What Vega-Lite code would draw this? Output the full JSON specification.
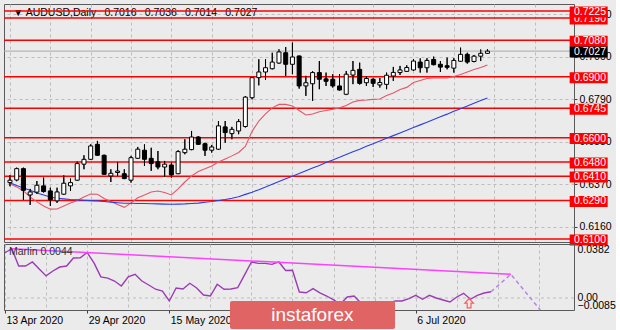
{
"$schema": "https://vega.github.io/schema/vega-lite/v6.json",
"background": "#EBEBEB",
"padding": {"left": 2, "top": 3, "right": 0, "bottom": 0},
"spacing": 2,
"bounds": "flush",
"config": {"view": {"stroke": "#5A5A5A", "strokeWidth": 1}, "text": {"font": "Liberation Sans"}, "axis": {"labelFont": "Liberation Sans", "labelFontSize": 10.5, "labelColor": "#000000"}},
"datasets": {
"bars": [
{"i":0,"d":"2020-04-13","o":0.6378,"h":0.6415,"l":0.6360,"c":0.6390,"ma12":0.6372,"ma50":0.6377,"marlin":0.0320},
{"i":1,"d":"2020-04-14","o":0.6391,"h":0.6452,"l":0.6385,"c":0.6447,"ma12":0.6357,"ma50":0.6364,"marlin":0.0349},
{"i":2,"d":"2020-04-15","o":0.6447,"h":0.6452,"l":0.6293,"c":0.6340,"ma12":0.6337,"ma50":0.6352,"marlin":0.0226},
{"i":3,"d":"2020-04-16","o":0.6317,"h":0.6347,"l":0.6268,"c":0.6332,"ma12":0.6307,"ma50":0.6340,"marlin":0.0226},
{"i":4,"d":"2020-04-17","o":0.6331,"h":0.6386,"l":0.6322,"c":0.6365,"ma12":0.6283,"ma50":0.6327,"marlin":0.0255},
{"i":5,"d":"2020-04-20","o":0.6362,"h":0.6403,"l":0.6329,"c":0.6334,"ma12":0.6263,"ma50":0.6317,"marlin":0.0205},
{"i":6,"d":"2020-04-21","o":0.6337,"h":0.6353,"l":0.6263,"c":0.6293,"ma12":0.6247,"ma50":0.6307,"marlin":0.0156},
{"i":7,"d":"2020-04-22","o":0.6288,"h":0.6353,"l":0.6278,"c":0.6332,"ma12":0.6248,"ma50":0.6301,"marlin":0.0191},
{"i":8,"d":"2020-04-23","o":0.6321,"h":0.6414,"l":0.6318,"c":0.6375,"ma12":0.6263,"ma50":0.6298,"marlin":0.0219},
{"i":9,"d":"2020-04-24","o":0.6362,"h":0.6398,"l":0.6337,"c":0.6378,"ma12":0.6278,"ma50":0.6295,"marlin":0.0226},
{"i":10,"d":"2020-04-27","o":0.6390,"h":0.6482,"l":0.6388,"c":0.6472,"ma12":0.6290,"ma50":0.6293,"marlin":0.0283},
{"i":11,"d":"2020-04-28","o":0.6469,"h":0.6513,"l":0.6444,"c":0.6493,"ma12":0.6307,"ma50":0.6291,"marlin":0.0285},
{"i":12,"d":"2020-04-29","o":0.6493,"h":0.6567,"l":0.6490,"c":0.6559,"ma12":0.6322,"ma50":0.6289,"marlin":0.0322},
{"i":13,"d":"2020-04-30","o":0.6567,"h":0.6584,"l":0.6510,"c":0.6513,"ma12":0.6321,"ma50":0.6288,"marlin":0.0248},
{"i":14,"d":"2020-05-01","o":0.6513,"h":0.6516,"l":0.6417,"c":0.6419,"ma12":0.6300,"ma50":0.6285,"marlin":0.0149},
{"i":15,"d":"2020-05-04","o":0.6411,"h":0.6444,"l":0.6381,"c":0.6424,"ma12":0.6285,"ma50":0.6282,"marlin":0.0141},
{"i":16,"d":"2020-05-05","o":0.6428,"h":0.6480,"l":0.6411,"c":0.6435,"ma12":0.6270,"ma50":0.6279,"marlin":0.0120},
{"i":17,"d":"2020-05-06","o":0.6422,"h":0.6444,"l":0.6395,"c":0.6398,"ma12":0.6256,"ma50":0.6276,"marlin":0.0085},
{"i":18,"d":"2020-05-07","o":0.6390,"h":0.6510,"l":0.6378,"c":0.6501,"ma12":0.6278,"ma50":0.6276,"marlin":0.0149},
{"i":19,"d":"2020-05-08","o":0.6498,"h":0.6554,"l":0.6495,"c":0.6543,"ma12":0.6303,"ma50":0.6275,"marlin":0.0168},
{"i":20,"d":"2020-05-11","o":0.6538,"h":0.6567,"l":0.6460,"c":0.6493,"ma12":0.6317,"ma50":0.6275,"marlin":0.0120},
{"i":21,"d":"2020-05-12","o":0.6498,"h":0.6550,"l":0.6436,"c":0.6472,"ma12":0.6332,"ma50":0.6274,"marlin":0.0092},
{"i":22,"d":"2020-05-13","o":0.6481,"h":0.6534,"l":0.6444,"c":0.6455,"ma12":0.6337,"ma50":0.6273,"marlin":0.0062},
{"i":23,"d":"2020-05-14","o":0.6455,"h":0.6485,"l":0.6406,"c":0.6469,"ma12":0.6329,"ma50":0.6272,"marlin":0.0049},
{"i":24,"d":"2020-05-15","o":0.6465,"h":0.6477,"l":0.6403,"c":0.6416,"ma12":0.6317,"ma50":0.6271,"marlin":-0.0021},
{"i":25,"d":"2020-05-18","o":0.6422,"h":0.6538,"l":0.6420,"c":0.6531,"ma12":0.6347,"ma50":0.6272,"marlin":0.0071},
{"i":26,"d":"2020-05-19","o":0.6526,"h":0.6592,"l":0.6518,"c":0.6543,"ma12":0.6381,"ma50":0.6273,"marlin":0.0064},
{"i":27,"d":"2020-05-20","o":0.6541,"h":0.6633,"l":0.6538,"c":0.6603,"ma12":0.6411,"ma50":0.6275,"marlin":0.0104},
{"i":28,"d":"2020-05-21","o":0.6603,"h":0.6608,"l":0.6564,"c":0.6567,"ma12":0.6433,"ma50":0.6277,"marlin":0.0071},
{"i":29,"d":"2020-05-22","o":0.6570,"h":0.6575,"l":0.6510,"c":0.6538,"ma12":0.6446,"ma50":0.6281,"marlin":0.0021},
{"i":30,"d":"2020-05-25","o":0.6538,"h":0.6564,"l":0.6526,"c":0.6554,"ma12":0.6460,"ma50":0.6285,"marlin":0.0014},
{"i":31,"d":"2020-05-26","o":0.6543,"h":0.6682,"l":0.6540,"c":0.6658,"ma12":0.6480,"ma50":0.6290,"marlin":0.0097},
{"i":32,"d":"2020-05-27","o":0.6653,"h":0.6682,"l":0.6575,"c":0.6625,"ma12":0.6495,"ma50":0.6295,"marlin":0.0062},
{"i":33,"d":"2020-05-28","o":0.6620,"h":0.6653,"l":0.6592,"c":0.6641,"ma12":0.6510,"ma50":0.6301,"marlin":0.0064},
{"i":34,"d":"2020-05-29","o":0.6633,"h":0.6691,"l":0.6617,"c":0.6679,"ma12":0.6527,"ma50":0.6308,"marlin":0.0073},
{"i":35,"d":"2020-06-01","o":0.6655,"h":0.6805,"l":0.6650,"c":0.6800,"ma12":0.6557,"ma50":0.6320,"marlin":0.0163},
{"i":36,"d":"2020-06-02","o":0.6797,"h":0.6900,"l":0.6789,"c":0.6896,"ma12":0.6631,"ma50":0.6331,"marlin":0.0255},
{"i":37,"d":"2020-06-03","o":0.6896,"h":0.6987,"l":0.6858,"c":0.6924,"ma12":0.6682,"ma50":0.6343,"marlin":0.0245},
{"i":38,"d":"2020-06-04","o":0.6924,"h":0.6987,"l":0.6885,"c":0.6945,"ma12":0.6717,"ma50":0.6356,"marlin":0.0245},
{"i":39,"d":"2020-06-05","o":0.6940,"h":0.7019,"l":0.6937,"c":0.6973,"ma12":0.6747,"ma50":0.6370,"marlin":0.0238},
{"i":40,"d":"2020-06-08","o":0.6968,"h":0.7036,"l":0.6965,"c":0.7023,"ma12":0.6764,"ma50":0.6383,"marlin":0.0255},
{"i":41,"d":"2020-06-09","o":0.7019,"h":0.7047,"l":0.6904,"c":0.6962,"ma12":0.6764,"ma50":0.6397,"marlin":0.0195},
{"i":42,"d":"2020-06-10","o":0.6962,"h":0.7069,"l":0.6913,"c":0.6998,"ma12":0.6756,"ma50":0.6410,"marlin":0.0196},
{"i":43,"d":"2020-06-11","o":0.7003,"h":0.7005,"l":0.6842,"c":0.6855,"ma12":0.6734,"ma50":0.6423,"marlin":0.0042},
{"i":44,"d":"2020-06-12","o":0.6855,"h":0.6905,"l":0.6806,"c":0.6871,"ma12":0.6712,"ma50":0.6437,"marlin":0.0037},
{"i":45,"d":"2020-06-15","o":0.6866,"h":0.6928,"l":0.6781,"c":0.6921,"ma12":0.6717,"ma50":0.6450,"marlin":0.0066},
{"i":46,"d":"2020-06-16","o":0.6921,"h":0.6978,"l":0.6839,"c":0.6888,"ma12":0.6728,"ma50":0.6463,"marlin":0.0037},
{"i":47,"d":"2020-06-17","o":0.6890,"h":0.6921,"l":0.6855,"c":0.6878,"ma12":0.6734,"ma50":0.6477,"marlin":0.0014},
{"i":48,"d":"2020-06-18","o":0.6888,"h":0.6913,"l":0.6847,"c":0.6855,"ma12":0.6740,"ma50":0.6490,"marlin":-0.0014},
{"i":49,"d":"2020-06-19","o":0.6855,"h":0.6913,"l":0.6833,"c":0.6835,"ma12":0.6747,"ma50":0.6503,"marlin":-0.0043},
{"i":50,"d":"2020-06-22","o":0.6814,"h":0.6929,"l":0.6810,"c":0.6913,"ma12":0.6759,"ma50":0.6517,"marlin":0.0007},
{"i":51,"d":"2020-06-23","o":0.6909,"h":0.6978,"l":0.6864,"c":0.6932,"ma12":0.6776,"ma50":0.6530,"marlin":0.0014},
{"i":52,"d":"2020-06-24","o":0.6937,"h":0.6970,"l":0.6862,"c":0.6868,"ma12":0.6784,"ma50":0.6543,"marlin":-0.0036},
{"i":53,"d":"2020-06-25","o":0.6871,"h":0.6904,"l":0.6855,"c":0.6892,"ma12":0.6786,"ma50":0.6557,"marlin":-0.0057},
{"i":54,"d":"2020-06-26","o":0.6888,"h":0.6893,"l":0.6850,"c":0.6868,"ma12":0.6789,"ma50":0.6570,"marlin":-0.0064},
{"i":55,"d":"2020-06-29","o":0.6860,"h":0.6894,"l":0.6847,"c":0.6872,"ma12":0.6791,"ma50":0.6583,"marlin":-0.0050},
{"i":56,"d":"2020-06-30","o":0.6863,"h":0.6921,"l":0.6839,"c":0.6908,"ma12":0.6808,"ma50":0.6597,"marlin":-0.0036},
{"i":57,"d":"2020-07-01","o":0.6904,"h":0.6949,"l":0.6880,"c":0.6922,"ma12":0.6820,"ma50":0.6610,"marlin":-0.0021},
{"i":58,"d":"2020-07-02","o":0.6921,"h":0.6954,"l":0.6909,"c":0.6934,"ma12":0.6838,"ma50":0.6623,"marlin":-0.0021},
{"i":59,"d":"2020-07-03","o":0.6927,"h":0.6957,"l":0.6925,"c":0.6946,"ma12":0.6848,"ma50":0.6636,"marlin":-0.0004},
{"i":60,"d":"2020-07-06","o":0.6934,"h":0.6988,"l":0.6930,"c":0.6978,"ma12":0.6872,"ma50":0.6650,"marlin":0.0019},
{"i":61,"d":"2020-07-07","o":0.6973,"h":0.6991,"l":0.6921,"c":0.6945,"ma12":0.6882,"ma50":0.6663,"marlin":-0.0009},
{"i":62,"d":"2020-07-08","o":0.6945,"h":0.6992,"l":0.6921,"c":0.6981,"ma12":0.6892,"ma50":0.6676,"marlin":0.0019},
{"i":63,"d":"2020-07-09","o":0.6986,"h":0.7000,"l":0.6957,"c":0.6960,"ma12":0.6894,"ma50":0.6690,"marlin":0.0000},
{"i":64,"d":"2020-07-10","o":0.6962,"h":0.6978,"l":0.6924,"c":0.6948,"ma12":0.6894,"ma50":0.6703,"marlin":-0.0014},
{"i":65,"d":"2020-07-13","o":0.6955,"h":0.6995,"l":0.6937,"c":0.6947,"ma12":0.6894,"ma50":0.6716,"marlin":-0.0028},
{"i":66,"d":"2020-07-14","o":0.6943,"h":0.6992,"l":0.6921,"c":0.6981,"ma12":0.6902,"ma50":0.6730,"marlin":0.0007},
{"i":67,"d":"2020-07-15","o":0.6977,"h":0.7044,"l":0.6975,"c":0.7011,"ma12":0.6912,"ma50":0.6743,"marlin":0.0033},
{"i":68,"d":"2020-07-16","o":0.7011,"h":0.7019,"l":0.6965,"c":0.6973,"ma12":0.6924,"ma50":0.6756,"marlin":-0.0009},
{"i":69,"d":"2020-07-17","o":0.6976,"h":0.7008,"l":0.6972,"c":0.7002,"ma12":0.6936,"ma50":0.6770,"marlin":0.0019},
{"i":70,"d":"2020-07-20","o":0.7002,"h":0.7035,"l":0.6978,"c":0.7016,"ma12":0.6946,"ma50":0.6783,"marlin":0.0035},
{"i":71,"d":"2020-07-21","o":0.7016,"h":0.7036,"l":0.7014,"c":0.7027,"ma12":0.6959,"ma50":0.6796,"marlin":0.0044}
],
"levels": [{"p":0.7190},{"p":0.7080},{"p":0.6900},{"p":0.6745},{"p":0.6600},{"p":0.6480},{"p":0.6410},{"p":0.6290},{"p":0.6100},{"p":0.7225}],
"last": [{"p":0.7027}],
"trend": [{"i":1,"v":0.0349},{"i":73.9,"v":0.0168}],
"forecast": [{"i":71,"v":0.0044},{"i":73.9,"v":0.0168},{"i":78.2,"v":-0.0085}],
"one": [{"n":1}]
},
"vconcat": [
{
"width": 570, "height": 238,
"layer": [
{"data": {"name": "one"}, "mark": {"type": "text", "align": "left", "baseline": "middle", "fontSize": 10.5, "color": "#000000"},
 "encoding": {"x": {"datum": 0.44, "type": "quantitative"}, "y": {"datum": 0.72151, "type": "quantitative"}, "text": {"value": "▼ AUDUSD,Daily\u2002 0.7016\u2002 0.7036\u2002 0.7014\u2002 0.7027"}}},
{"data": {"name": "bars"},
 "mark": {"type": "rule", "color": "#000000", "strokeWidth": 1, "clip": true},
 "encoding": {
  "x": {"field": "i", "type": "quantitative", "title": null, "scale": {"domain": [-0.146, 83.126], "nice": false, "zero": false},
        "axis": {"values": [0,6,12,18,24,30,36,42,48,54,60,66,72,78], "tickCount": 20, "labels": false, "ticks": false, "domain": false, "grid": true, "gridColor": "#BDBDBD", "gridDash": [3,3], "title": null}},
  "y": {"field": "l", "type": "quantitative", "title": null, "scale": {"domain": [0.6085, 0.72595], "nice": false, "zero": false},
        "axis": {"orient": "right", "values": [0.616, 0.637, 0.658, 0.679, 0.7, 0.721], "tickCount": 10, "format": ".4f", "grid": true, "gridColor": "#BDBDBD", "gridDash": [3,3], "domain": false, "ticks": true, "tickSize": 3, "tickColor": "#404040", "labelPadding": 2, "labelOverlap": false, "labelFlush": false, "labelBound": false, "title": null}},
  "y2": {"field": "h"}}},
{"data": {"name": "levels"}, "mark": {"type": "rule", "color": "#FF0000", "strokeWidth": 1.5},
 "encoding": {"y": {"field": "p", "type": "quantitative", "title": null}}},
{"data": {"name": "last"}, "mark": {"type": "rule", "color": "#A8A8A8", "strokeWidth": 1},
 "encoding": {"y": {"field": "p", "type": "quantitative", "title": null}}},
{"data": {"name": "bars"}, "mark": {"type": "line", "color": "#E5566A", "strokeWidth": 1.1, "clip": true},
 "encoding": {"x": {"field": "i", "type": "quantitative", "title": null}, "y": {"field": "ma12", "type": "quantitative", "title": null}}},
{"data": {"name": "bars"}, "mark": {"type": "line", "color": "#2B3FE0", "strokeWidth": 1.1, "clip": true},
 "encoding": {"x": {"field": "i", "type": "quantitative", "title": null}, "y": {"field": "ma50", "type": "quantitative", "title": null}}},
{"data": {"name": "bars"}, "mark": {"type": "rule", "color": "#000000", "strokeWidth": 1, "clip": true},
 "encoding": {"x": {"field": "i", "type": "quantitative", "title": null}, "y": {"field": "l", "type": "quantitative", "title": null}, "y2": {"field": "h"}}},
{"data": {"name": "bars"}, "mark": {"type": "bar", "width": 4, "stroke": "#000000", "strokeWidth": 1, "clip": true},
 "encoding": {"x": {"field": "i", "type": "quantitative", "title": null}, "y": {"field": "o", "type": "quantitative", "title": null}, "y2": {"field": "c"},
  "fill": {"condition": {"test": "datum.c < datum.o", "value": "#000000"}, "value": "#FFFFFF"}}},
{"data": {"name": "levels"}, "transform": [{"filter": "datum.p != 0.7225"}],
 "mark": {"type": "point", "shape": "M-1,-0.24H1V0.34H-1Z", "size": 1444, "filled": true, "color": "#FF0000", "opacity": 1, "strokeWidth": 0},
 "encoding": {"x": {"datum": 86.05, "type": "quantitative"}, "y": {"field": "p", "type": "quantitative", "title": null}}},
{"data": {"name": "levels"}, "transform": [{"filter": "datum.p != 0.7225"}],
 "mark": {"type": "text", "align": "left", "baseline": "middle", "dy": 1, "fontSize": 10.5, "color": "#FFFFFF"},
 "encoding": {"x": {"datum": 83.86, "type": "quantitative"}, "y": {"field": "p", "type": "quantitative", "title": null}, "text": {"field": "p", "type": "quantitative", "format": ".4f"}}},
{"data": {"name": "levels"}, "transform": [{"filter": "datum.p == 0.7225"}],
 "mark": {"type": "point", "shape": "M-1,-0.24H1V0.34H-1Z", "size": 1444, "filled": true, "color": "#FF0000", "opacity": 1, "strokeWidth": 0},
 "encoding": {"x": {"datum": 86.05, "type": "quantitative"}, "y": {"field": "p", "type": "quantitative", "title": null}}},
{"data": {"name": "levels"}, "transform": [{"filter": "datum.p == 0.7225"}],
 "mark": {"type": "text", "align": "left", "baseline": "middle", "dy": 1, "fontSize": 10.5, "color": "#FFFFFF"},
 "encoding": {"x": {"datum": 83.86, "type": "quantitative"}, "y": {"field": "p", "type": "quantitative", "title": null}, "text": {"field": "p", "type": "quantitative", "format": ".4f"}}},
{"data": {"name": "last"},
 "mark": {"type": "point", "shape": "M-1,-0.24H1V0.34H-1Z", "size": 1444, "filled": true, "color": "#000000", "opacity": 1, "strokeWidth": 0},
 "encoding": {"x": {"datum": 86.05, "type": "quantitative"}, "y": {"field": "p", "type": "quantitative", "title": null}}},
{"data": {"name": "last"},
 "mark": {"type": "text", "align": "left", "baseline": "middle", "dy": 1, "fontSize": 10.5, "color": "#FFFFFF"},
 "encoding": {"x": {"datum": 83.86, "type": "quantitative"}, "y": {"field": "p", "type": "quantitative", "title": null}, "text": {"field": "p", "type": "quantitative", "format": ".4f"}}}
]
},
{
"width": 570, "height": 66,
"layer": [
{"data": {"name": "one"}, "mark": {"type": "rule", "color": "#BDBDBD", "strokeWidth": 1, "strokeDash": [3,3]},
 "encoding": {"y": {"datum": 0, "type": "quantitative"}}},
{"data": {"name": "bars"}, "mark": {"type": "line", "color": "#9A3DB5", "strokeWidth": 1.4, "clip": true},
 "encoding": {
  "x": {"field": "i", "type": "quantitative", "title": null, "scale": {"domain": [-0.146, 83.126], "nice": false, "zero": false},
        "axis": {"values": [0,6,12,18,24,30,36,42,48,54,60,66,72,78], "tickCount": 20, "grid": true, "gridColor": "#BDBDBD", "gridDash": [3,3], "domain": false, "tickSize": 3,
                 "tickColor": {"condition": {"test": "datum.value % 12 == 0 && datum.value <= 60", "value": "#404040"}, "value": "transparent"},
                 "labelExpr": "(datum.value % 12 == 0 && datum.value <= 60) ? ['13 Apr 2020','29 Apr 2020','15 May 2020','2 Jun 2020','18 Jun 2020','6 Jul 2020'][datum.value / 12] : ''",
                 "labelAlign": "left", "labelBaseline": "top", "labelOffset": 1, "labelPadding": 2, "labelFlush": false, "labelOverlap": false, "labelBound": false, "title": null}},
  "y": {"field": "marlin", "type": "quantitative", "title": null, "scale": {"domain": [-0.0085, 0.0382], "nice": false, "zero": false},
        "axis": {"orient": "right", "values": [0.0382, 0, -0.0085], "tickCount": 10, "labelExpr": "abs(datum.value) < 0.0001 ? '0.00' : format(datum.value, '.4f')",
                 "grid": false, "domain": false, "ticks": false, "labelPadding": 3,
                 "labelBaseline": {"condition": [{"test": "datum.value > 0.03", "value": "top"}, {"test": "datum.value < -0.008", "value": "bottom"}], "value": "middle"},
                 "labelOverlap": false, "labelFlush": false, "labelBound": false, "title": null}}}},
{"data": {"name": "trend"}, "mark": {"type": "line", "color": "#FF40FF", "strokeWidth": 1.5, "clip": true},
 "encoding": {"x": {"field": "i", "type": "quantitative", "title": null}, "y": {"field": "v", "type": "quantitative", "title": null}}},
{"data": {"name": "forecast"}, "mark": {"type": "line", "color": "#B884E4", "strokeWidth": 1.5, "strokeDash": [4,3]},
 "encoding": {"x": {"field": "i", "type": "quantitative", "title": null}, "y": {"field": "v", "type": "quantitative", "title": null}}},
{"data": {"name": "one"}, "mark": {"type": "text", "align": "left", "baseline": "middle", "fontSize": 10.5, "color": "#303030"},
 "encoding": {"x": {"datum": 0.58, "type": "quantitative"}, "y": {"datum": 0.0325, "type": "quantitative"}, "text": {"value": "Marlin 0.0044"}}},
{"data": {"name": "one"}, "mark": {"type": "point", "shape": "M0,-1L0.9,0L0.4,0L0.4,1L-0.4,1L-0.4,0L-0.9,0Z", "size": 90, "filled": true, "stroke": "#F06060", "fill": "#FFE4E4", "strokeWidth": 1.2, "opacity": 1},
 "encoding": {"x": {"datum": 67.8, "type": "quantitative"}, "y": {"datum": -0.0036, "type": "quantitative"}}},
{"data": {"name": "one"}, "mark": {"type": "rect", "color": "#E06464", "cornerRadius": 2},
 "encoding": {"x": {"datum": 32.87, "type": "quantitative"}, "x2": {"datum": 56.98}, "y": {"datum": -0.0021, "type": "quantitative"}, "y2": {"datum": -0.0220}}},
{"data": {"name": "one"}, "mark": {"type": "text", "align": "center", "baseline": "middle", "fontSize": 19, "color": "#FFFFFF"},
 "encoding": {"x": {"datum": 44.9, "type": "quantitative"}, "y": {"datum": -0.0118, "type": "quantitative"}, "text": {"value": "instaforex"}}}
]
}
]
}
